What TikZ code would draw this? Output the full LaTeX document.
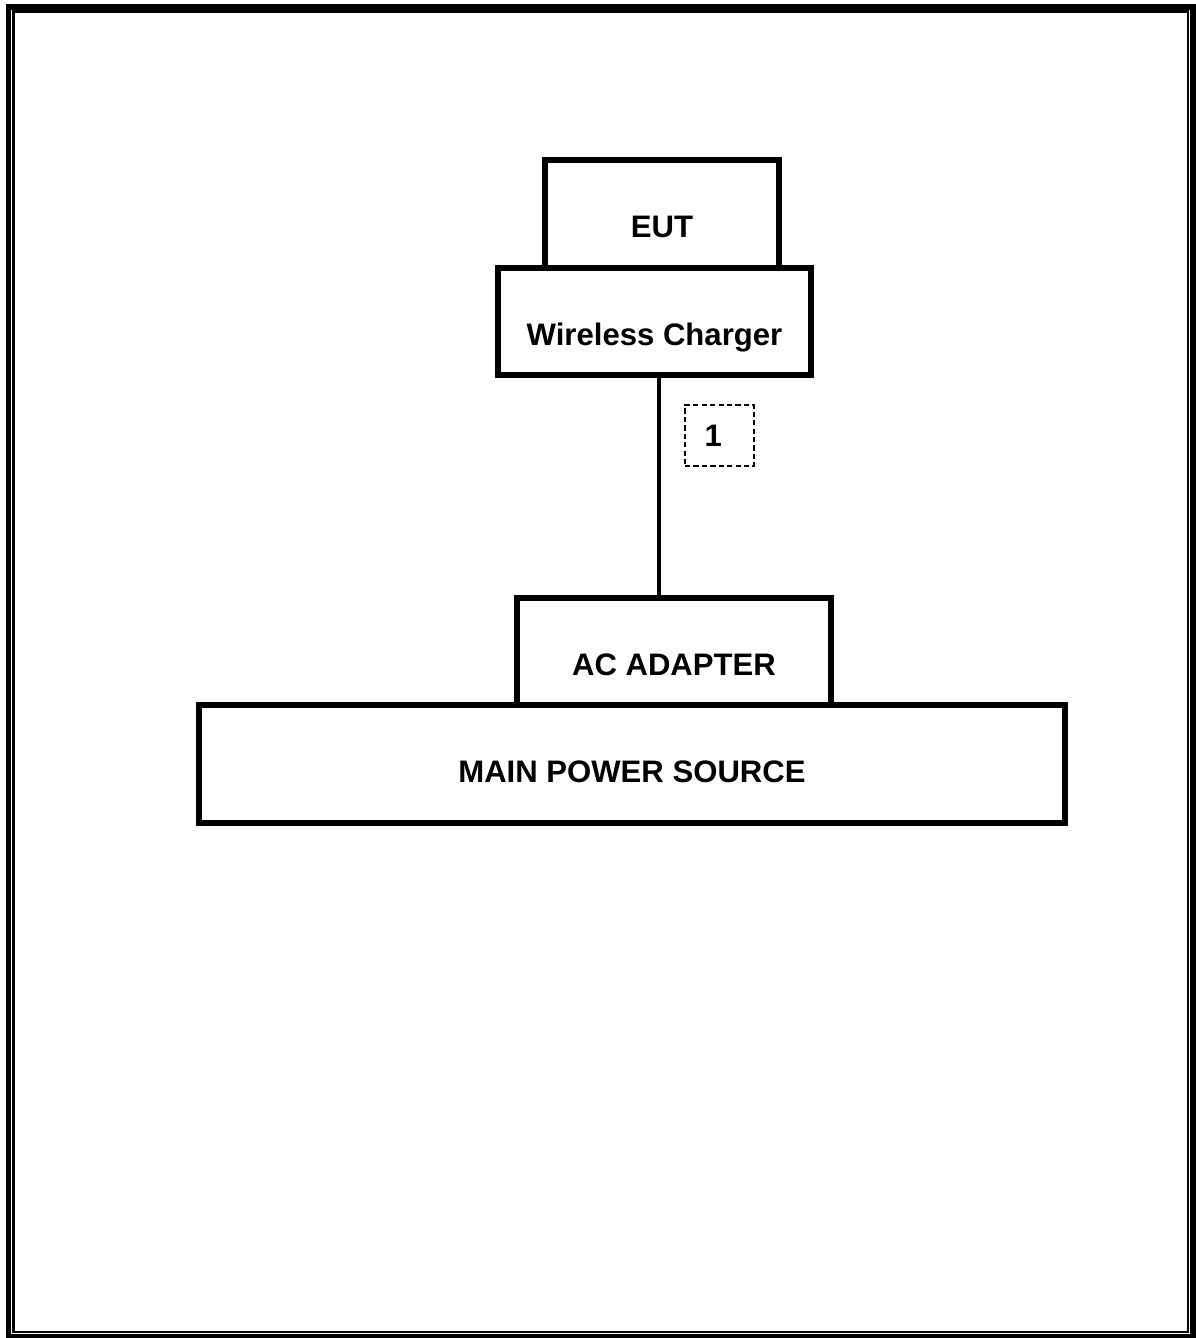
\documentclass[tikz,border=0pt]{standalone}
\usepackage{fontspec}
\setmainfont{Liberation Sans}

\begin{document}
\begin{tikzpicture}[x=0.02cm, y=-0.02cm,
    unitbox/.style={draw, line width=2.9pt, inner sep=0pt, outer sep=0pt,
      font=\fontsize{17.7}{20}\selectfont\bfseries, text height=27pt, text depth=0pt},
    cable/.style={line width=2.8pt},
    portlabel/.style={draw, dashed, dash pattern=on 3pt off 1.8pt, line width=0.75pt,
      inner sep=0pt, minimum width=69*0.02cm, minimum height=61*0.02cm,
      font=\fontsize{17.7}{20}\selectfont\bfseries}]
  \useasboundingbox (0,0) rectangle (1196,1338);
  % page frame
  \draw[line width=3.2pt] (8.5,7) rectangle (1193,1336.5);
  \draw[line width=1.2pt] (13.5,11.5) rectangle (1188,1332);

  \node[unitbox, minimum width=234*0.02cm, minimum height=108*0.02cm] (eut) at (662,214) {EUT};
  \node[unitbox, minimum width=313*0.02cm, minimum height=107*0.02cm] (wc) at (654.5,321.5) {Wireless Charger};
  \node[unitbox, minimum width=314*0.02cm, minimum height=107*0.02cm] (ac) at (674,651.5) {AC ADAPTER};
  \node[unitbox, minimum width=866*0.02cm, minimum height=118*0.02cm, text height=21.4pt] (mps) at (632,764) {MAIN POWER SOURCE};

  \draw[cable] ([xshift=4.5*0.02cm]wc.south) -- ([xshift=4.5*0.02cm]wc.south |- ac.north);
  \node[portlabel] (p1) at (719.5,435.5) {\hspace*{-7pt}1};
\end{tikzpicture}
\end{document}
